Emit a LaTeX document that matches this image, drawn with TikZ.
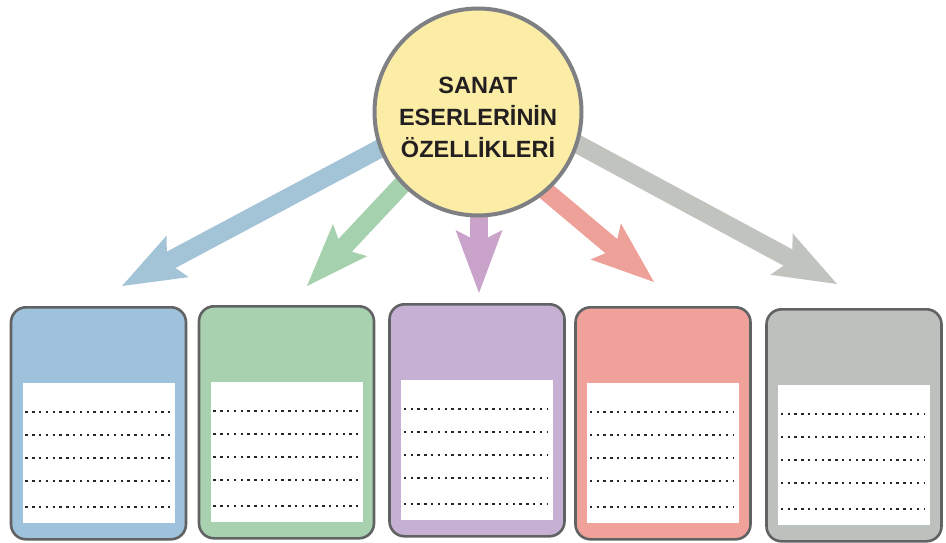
\documentclass[tikz,border=0pt]{standalone}
\usepackage{fontspec}
\newfontfamily\hfont{Liberation Sans}
\usetikzlibrary{arrows.meta,calc,backgrounds}
\definecolor{ablue}{HTML}{A3C3D6}
\definecolor{agreen}{HTML}{A5D1AF}
\definecolor{apurple}{HTML}{C9A3C9}
\definecolor{ared}{HTML}{EDA198}
\definecolor{agray}{HTML}{C0C3BE}
\definecolor{bblue}{HTML}{9EC2DB}
\definecolor{bgreen}{HTML}{A7D1AF}
\definecolor{bpurple}{HTML}{C6B0D4}
\definecolor{bred}{HTML}{F0A19A}
\definecolor{bgray}{HTML}{BDC1BD}
\definecolor{cfill}{HTML}{FBEDA6}
\definecolor{cborder}{HTML}{7F8083}
\definecolor{boxborder}{HTML}{616264}
\definecolor{txt}{HTML}{231F20}
\tikzset{
  fatarrow/.style={line width=18.5pt, draw=#1,
    -{Stealth[length=63pt, width=47pt, inset=12pt, line width=0pt, fill=#1]}},
  cardbox/.style={draw=boxborder, line width=2.6pt, rounded corners=15pt,
    minimum width=175pt, minimum height=232pt, inner sep=0pt, anchor=north},
  innerbox/.style={fill=white, minimum width=152pt, minimum height=140pt,
    inner sep=0pt, anchor=north},
  dotline/.style={line width=2.4pt, draw=black!85, dash pattern=on 2.4pt off 4.4pt},
  bigcircle/.style={circle, draw=cborder, line width=4pt, fill=cfill,
    minimum size=207pt, inner sep=0pt},
  title/.style={font=\hfont\bfseries\fontsize{23.5}{32}\selectfont,
    text=txt, align=center, inner sep=0pt}
}
\begin{document}
\begin{tikzpicture}[x=1pt,y=-1pt]
\useasboundingbox (0,0) rectangle (946,543);
% circle
\node[bigcircle] (c) at (478,112) {};
\node[title] (ct) at (478,117) {SANAT\\ESERLERİNİN\\ÖZELLİKLERİ};
% arrow ends
\coordinate (s1) at (413,131);
\coordinate (t1) at (122,286);
\coordinate (s2) at (430,155);
\coordinate (t2) at (307,286);
\coordinate (s3) at (479,180);
\coordinate (t3) at (479,293);
\coordinate (s4) at (516,166);
\coordinate (t4) at (654,282);
\coordinate (s5) at (555,132);
\coordinate (t5) at (837,284);
\begin{scope}[on background layer]
\draw[fatarrow=ablue] (s1) -- (t1);
\draw[fatarrow=agreen] (s2) -- (t2);
\draw[fatarrow=apurple] (s3) -- (t3);
\draw[fatarrow=ared] (s4) -- (t4);
\draw[fatarrow=agray] (s5) -- (t5);
\end{scope}
% boxes
\foreach \i/\x/\y/\col in {1/98.5/306/bblue, 2/286.5/305/bgreen, 3/477/303/bpurple, 4/663/306/bred, 5/854/308/bgray}{
  \node[cardbox, fill=\col] (b\i) at (\x,\y) {};
  \node[innerbox] (w\i) at ($(b\i.north)+(0,77)$) {};
  \foreach \d in {29,52,75,98,124}{
    \draw[dotline] ($(w\i.north west)+(3,\d)$) -- ($(w\i.north east)+(-5,\d)$);
  }
}
\end{tikzpicture}
\end{document}
